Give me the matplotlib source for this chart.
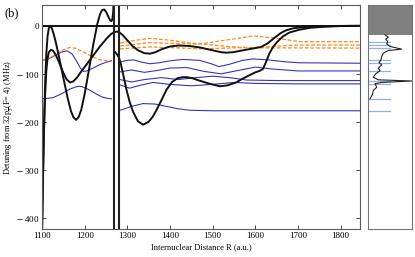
import matplotlib
matplotlib.use("Agg")
import matplotlib.pyplot as plt

plt.rcParams['font.family'] = ['Liberation Serif', 'DejaVu Serif']
plt.rcParams['mathtext.fontset'] = 'stix'

# black adiabatic curves
a_R = [1100, 1102, 1104, 1106, 1108, 1110, 1113, 1116, 1119, 1123, 1127, 1132, 1140, 1150,
       1160, 1168, 1174, 1180, 1186, 1192, 1200, 1210, 1220, 1230, 1236, 1241, 1246,
       1251, 1256, 1260, 1263, 1265, 1267, 1269]
a_E = [-440, -330, -240, -165, -105, -60, -22, -5, 0, -5, -16, -33, -65, -108,
       -150, -178, -191, -196, -190, -175, -142, -92, -40, 5, 24, 33, 34,
       28, 18, 11, 10, 14, 30, 80]

b_R = [1100, 1102, 1104, 1107, 1110, 1113, 1116, 1121, 1126, 1132, 1140, 1150, 1158, 1166,
       1173, 1182, 1192, 1205, 1220, 1235, 1250, 1262, 1270, 1276, 1282, 1290, 1300, 1312,
       1325, 1340, 1353, 1366, 1380, 1400, 1420, 1445, 1470, 1500, 1520, 1532, 1548, 1565,
       1590, 1614, 1630, 1645, 1660, 1673, 1690, 1710, 1740, 1780, 1820, 1850]
b_E = [-440, -330, -240, -150, -95, -68, -55, -50, -52, -60, -76, -98, -112, -118,
       -116, -108, -95, -80, -62, -44, -28, -17, -13, -12, -14, -20, -30, -42,
       -51, -57, -58, -55, -49, -43, -41, -42, -45, -51, -55, -56, -55, -52,
       -48, -44, -36, -25, -15, -9, -5, -3, -1.5, -0.5, 0, 0]

d_R = [1272, 1280, 1285, 1290, 1298, 1306, 1314, 1325, 1337, 1350, 1360, 1368, 1380, 1392,
       1405, 1418, 1430, 1439, 1452, 1465, 1490, 1517, 1535, 1555, 1575, 1600, 1610, 1618,
       1625, 1633, 1641, 1652, 1665, 1680, 1704, 1730, 1760, 1800, 1850]
d_E = [-55, -65, -80, -100, -133, -160, -180, -199, -206, -200, -189, -176, -155, -133,
       -117, -109, -107, -107, -109, -113, -120, -126, -124, -118, -108, -97, -94, -90,
       -76, -58, -45, -33, -22, -14, -8, -4, -2, -0.5, 0]

pole_R = [1268, 1280]

# blue curves
bl1_R = [1100, 1115, 1130, 1145, 1158, 1170, 1180, 1190, 1197, 1205, 1220, 1235, 1250, 1263]
bl1_E = [-72, -69, -62, -55, -52, -58, -72, -88, -95, -94, -88, -81, -76, -73]
bl2_R = [1100, 1125, 1145, 1165, 1180, 1187, 1195, 1210, 1225, 1240, 1252, 1263]
bl2_E = [-152, -150, -142, -132, -127, -126, -127, -133, -141, -148, -151, -152]
br1_R = [1283, 1300, 1315, 1335, 1353, 1375, 1400, 1430, 1470, 1500, 1515, 1540, 1570, 1595, 1630, 1670, 1704, 1850]
br1_E = [-75, -72, -71, -76, -79, -77, -73, -70, -72, -80, -85, -80, -72, -69, -71, -75, -77, -78]
br2_R = [1283, 1310, 1340, 1370, 1400, 1440, 1480, 1520, 1560, 1600, 1640, 1700, 1850]
br2_E = [-96, -92, -97, -93, -88, -87, -95, -100, -93, -86, -90, -94, -94]
br3_R = [1283, 1310, 1340, 1380, 1420, 1460, 1500, 1540, 1580, 1650, 1850]
br3_E = [-112, -117, -112, -108, -112, -108, -105, -108, -113, -114, -114]
br4_R = [1283, 1305, 1330, 1360, 1400, 1450, 1500, 1550, 1600, 1700, 1850]
br4_E = [-123, -130, -124, -118, -122, -125, -122, -118, -120, -121, -121]
br5_R = [1283, 1310, 1337, 1365, 1392, 1420, 1447, 1500, 1850]
br5_E = [-176, -168, -162, -163, -168, -173, -176, -177, -177]

# orange dashed curves
ol_R = [1100, 1120, 1140, 1155, 1166, 1180, 1200, 1220, 1236, 1250, 1263]
ol_E = [-72, -66, -55, -48, -45, -47, -56, -65, -71, -72, -73]
or1_R = [1283, 1320, 1353, 1400, 1450, 1500, 1550, 1600, 1700, 1850]
or1_E = [-36, -30, -26, -30, -36, -40, -44, -46, -46, -46.5]
or2_R = [1283, 1353, 1420, 1470, 1530, 1595, 1650, 1704, 1850]
or2_E = [-42, -35, -37, -38, -30, -21, -26, -33, -33]
or3_R = [1283, 1353, 1420, 1470, 1550, 1600, 1700, 1850]
or3_E = [-48, -44, -46, -48, -46, -45, -40, -40]

# right panel: spectrum trace and line positions
sp_E = [-18.75, -23.6, -27.8, -32.6, -37.5, -43, -48.6, -51.4, -57, -63.9, -70.8, -76.4,
        -81.3, -88.2, -93.75, -100, -107, -112.5, -115, -118, -120.8, -127.8, -134.7, -143.75, -152]
sp_I = [0.385, 0.461, 0.40, 0.447, 0.424, 0.50, 0.77, 0.461, 0.346, 0.309, 0.293, 0.247,
        0.309, 0.23, 0.27, 0.17, 0.115, 0.23, 1.0, 0.309, 0.154, 0.194, 0.115, 0.092, 0.04]
lines_E = [-33, -40, -47, -72, -78, -94, -114, -121, -152, -177]
cut_E = -19

blue = '#3535c0'
orange = '#ff8a1e'
ymin, ymax = -424, 44

fig = plt.figure(figsize=(4.15, 2.57), dpi=100)
ax = fig.add_axes([0.1012, 0.1078, 0.7667, 0.8739])
ax2 = fig.add_axes([0.8875, 0.1078, 0.1045, 0.8739])

for R, E in [(bl1_R, bl1_E), (bl2_R, bl2_E), (br1_R, br1_E), (br2_R, br2_E),
             (br3_R, br3_E), (br4_R, br4_E), (br5_R, br5_E)]:
    ax.plot(R, E, color=blue, lw=0.8)
for R, E in [(ol_R, ol_E), (or1_R, or1_E), (or2_R, or2_E), (or3_R, or3_E)]:
    ax.plot(R, E, color=orange, lw=0.9, dashes=(3, 1.5))
ax.axhline(0, color='black', lw=1.3)
for R, E in [(a_R, a_E), (b_R, b_E), (d_R, d_E)]:
    ax.plot(R, E, color='#111111', lw=1.4)
for r in pole_R:
    ax.axvline(r, color='#222222', lw=1.5)

ax.set_xlim(1100, 1846)
ax.set_ylim(ymin, ymax)
ax.set_xticks([1100, 1200, 1300, 1400, 1500, 1600, 1700, 1800])
ax.set_yticks([0, -100, -200, -300, -400])
ax.set_yticklabels(['0', '$-$ 100', '$-$ 200', '$-$ 300', '$-$ 400'])
ax.tick_params(direction='in', top=True, right=True, labelsize=6.5, length=3, width=0.5, pad=2)
for s in ax.spines.values():
    s.set_color('0.35')
    s.set_linewidth(0.8)
ax.set_xlabel('Internuclear Distance R (a.u.)', fontsize=6, labelpad=2)
ax.set_ylabel(r'Detuning from 32p$_{\frac{3}{2}}$(F= 4) (MHz)', fontsize=6)
ax.yaxis.set_label_coords(-0.082, 0.5)

# right panel
for e in lines_E:
    ax2.plot([0, 0.5], [e, e], color='#7f9fd0', lw=0.9, alpha=0.8)
ax2.fill_between([0, 1], [cut_E, cut_E], [ymax, ymax], color='#808080', lw=0)
ax2.plot(sp_I, sp_E, color='#222222', lw=0.8)
ax2.set_xlim(0, 1)
ax2.set_ylim(ymin, ymax)
ax2.set_xticks([])
ax2.set_yticks([])
for s in ax2.spines.values():
    s.set_color('0.45')
    s.set_linewidth(0.8)

fig.text(0.01, 0.935, '(b)', fontsize=9)

fig.savefig('out.png', dpi=100)
